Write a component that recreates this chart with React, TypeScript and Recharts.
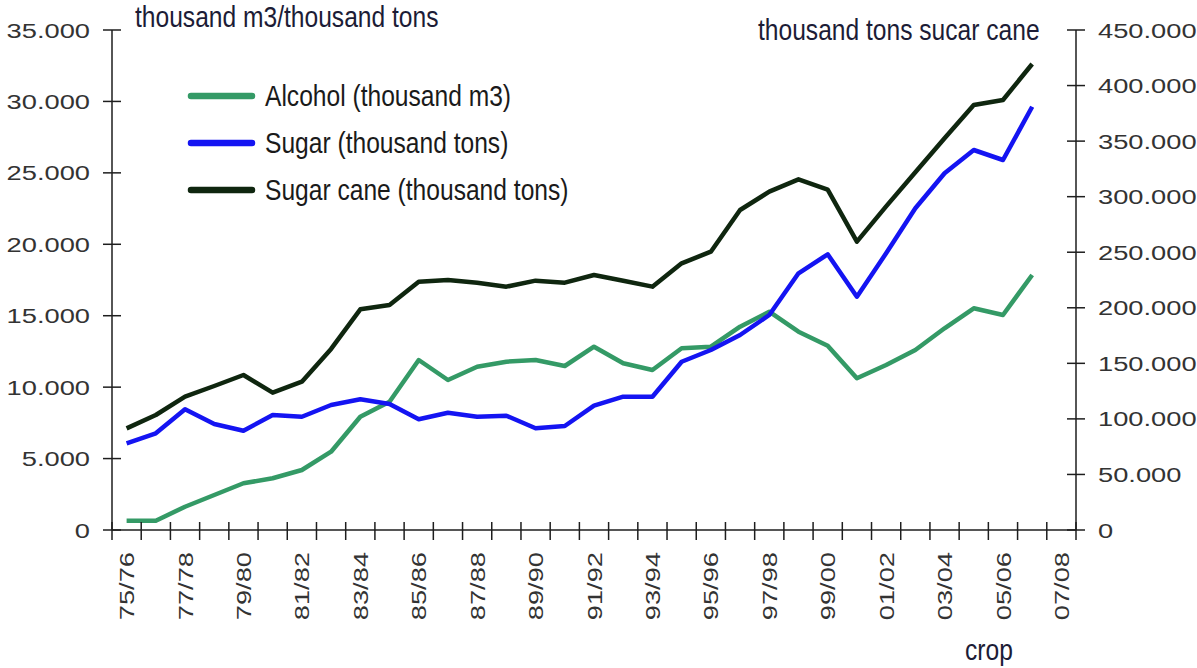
import React from 'react'
import { LineChart, Line, XAxis, YAxis } from 'recharts'

const crops = [
  '75/76', '76/77', '77/78', '78/79', '79/80', '80/81', '81/82', '82/83', '83/84', '84/85', '85/86',
  '86/87', '87/88', '88/89', '89/90', '90/91', '91/92', '92/93', '93/94', '94/95', '95/96', '96/97',
  '97/98', '98/99', '99/00', '00/01', '01/02', '02/03', '03/04', '04/05', '05/06', '06/07', '07/08',
]

// thousand m3
const alcohol = [
  650, 650, 1630, 2450, 3270, 3620, 4200, 5480, 7930, 8980, 11900, 10500, 11430, 11780, 11900, 11480,
  12830, 11670, 11200, 12720, 12830, 14230, 15280, 13880, 12900, 10620, 11550, 12600, 14120, 15520, 15050, 17850,
]

// thousand tons
const sugar = [
  6070, 6770, 8450, 7420, 6950, 8050, 7930, 8750, 9150, 8820, 7750, 8210, 7930, 8000, 7120, 7280,
  8700, 9330, 9330, 11780, 12600, 13650, 15050, 17970, 19300, 16330, 19370, 22520, 24970, 26600, 25900, 29630,
]

// thousand tons (right axis)
const sugarCane = [
  91500, 103500, 120000, 129600, 139500, 123600, 133500, 163000, 198600, 202500, 223500, 225000, 222600,
  219000, 224400, 222600, 229500, 224400, 219000, 240000, 250500, 288000, 304500, 315600, 306300, 259500,
  291300, 321900, 352500, 382500, 387000, 419400,
]

const leftTicks = [0, 5000, 10000, 15000, 20000, 25000, 30000, 35000]
const rightTicks = [0, 50000, 100000, 150000, 200000, 250000, 300000, 350000, 400000, 450000]

const series = [
  { key: 'alcohol', name: 'Alcohol (thousand m3)', color: '#349a66', axis: 'left' },
  { key: 'sugar', name: 'Sugar (thousand tons)', color: '#1414f2', axis: 'left' },
  { key: 'sugarCane', name: 'Sugar cane (thousand tons)', color: '#0f260f', axis: 'right' },
]

const data = crops.map((crop, i) => ({
  crop,
  alcohol: alcohol[i] ?? null,
  sugar: sugar[i] ?? null,
  sugarCane: sugarCane[i] ?? null,
}))

const W = 1197
const H = 668
const LEFT_W = 112
const RIGHT_W = 121
const HALF_BAND = (W - LEFT_W - RIGHT_W) / crops.length / 2
const AXIS = '#1e1e1e'
const NUM_FONT = '"Liberation Sans", Arial, sans-serif'
const NARROW_FONT = '"Liberation Sans", Arial, sans-serif'

const fmt = (v: number) => String(v).replace(/\B(?=(\d{3})+(?!\d))/g, '.')

const XTick = ({ x, y, payload }: any) => {
  const i = payload.index
  return (
    <g>
      <line x1={x - HALF_BAND} x2={x - HALF_BAND} y1={y - 8} y2={y + 10} stroke={AXIS} strokeWidth={1.5} />
      {i === crops.length - 1 && (
        <line x1={x + HALF_BAND} x2={x + HALF_BAND} y1={y - 8} y2={y + 10} stroke={AXIS} strokeWidth={1.5} />
      )}
      {i % 2 === 0 && (
        <text
          transform={`translate(${x},${y + 22}) rotate(-90) scale(1.3,1)`}
          textAnchor="end"
          dy="0.36em"
          fontSize={21}
          fontFamily={NUM_FONT}
          fill="#333"
        >
          {payload.value}
        </text>
      )}
    </g>
  )
}

const YTick = ({ x, y, payload, side }: any) => (
  <g>
    <line x1={x - 9} x2={x + 9} y1={y} y2={y} stroke={AXIS} strokeWidth={1.5} />
    <text
      transform={`translate(${side === 'left' ? x - 22 : x + 22},${y}) scale(1.3,1)`}
      textAnchor={side === 'left' ? 'end' : 'start'}
      dy="0.36em"
      fontSize={21}
      fontFamily={NUM_FONT}
      fill="#333"
    >
      {fmt(payload.value)}
    </text>
  </g>
)

const NarrowText = ({ x, y, children, fill = '#1c1c36' }: any) => (
  <text transform={`translate(${x},${y}) scale(0.82,1)`} fontSize={30} fontFamily={NARROW_FONT} fill={fill}>
    {children}
  </text>
)

export default function App() {
  return (
    <div style={{ position: 'absolute', left: 0, top: 0, width: W, height: H, background: '#fff' }}>
      <LineChart width={W} height={H} data={data} margin={{ top: 30, right: 0, bottom: 0, left: 0 }}>
        <XAxis
          dataKey="crop"
          height={138}
          interval={0}
          padding={{ left: HALF_BAND, right: HALF_BAND }}
          tickSize={0}
          tickMargin={0}
          tickLine={false}
          axisLine={{ stroke: AXIS, strokeWidth: 1.5 }}
          tick={<XTick />}
        />
        <YAxis
          yAxisId="left"
          orientation="left"
          width={LEFT_W}
          domain={[0, 35000]}
          ticks={leftTicks}
          interval={0}
          tickSize={0}
          tickMargin={0}
          tickLine={false}
          axisLine={{ stroke: AXIS, strokeWidth: 1.5 }}
          tick={<YTick side="left" />}
        />
        <YAxis
          yAxisId="right"
          orientation="right"
          width={RIGHT_W}
          domain={[0, 450000]}
          ticks={rightTicks}
          interval={0}
          tickSize={0}
          tickMargin={0}
          tickLine={false}
          axisLine={{ stroke: AXIS, strokeWidth: 1.5 }}
          tick={<YTick side="right" />}
        />
        {series.map((s) => (
          <Line
            key={s.key}
            yAxisId={s.axis}
            type="linear"
            dataKey={s.key}
            name={s.name}
            stroke={s.color}
            strokeWidth={4.5}
            strokeLinejoin="round"
            dot={false}
            activeDot={false}
            isAnimationActive={false}
          />
        ))}
      </LineChart>
      <svg width={W} height={H} style={{ position: 'absolute', left: 0, top: 0, pointerEvents: 'none' }}>
        <NarrowText x={135} y={27}>thousand m3/thousand tons</NarrowText>
        <NarrowText x={758} y={40}>thousand tons sucar cane</NarrowText>
        <NarrowText x={965} y={660}>crop</NarrowText>
        {series.map((s, i) => (
          <g key={s.key}>
            <line x1={191} x2={252} y1={96 + i * 47} y2={96 + i * 47} stroke={s.color} strokeWidth={6.5} strokeLinecap="round" />
            <NarrowText x={265} y={106 + i * 47} fill="#1a1a1a">{s.name}</NarrowText>
          </g>
        ))}
      </svg>
    </div>
  )
}
